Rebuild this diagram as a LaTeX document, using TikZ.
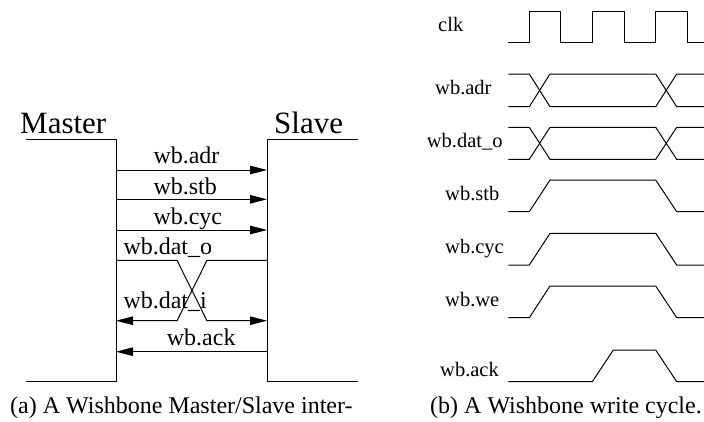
\documentclass[tikz,border=0pt]{standalone}
\usepackage{fontspec}
\setmainfont{Liberation Serif}
\newfontfamily\timesfont{Liberation Serif}
\usetikzlibrary{positioning}
\usetikzlibrary{arrows.meta}
\tikzset{>={Triangle[length=17pt,width=8.5pt]}}
\tikzset{bus/.style={line width=1pt}}
\tikzset{sig/.style={line width=1pt,->}}
\tikzset{wave/.style={line width=1pt,line join=miter}}
\tikzset{title/.style={anchor=base west,inner sep=0pt,font=\timesfont\fontsize{31}{36}\selectfont}}
\tikzset{lbl/.style={anchor=base west,inner sep=0pt,font=\timesfont\fontsize{24}{28}\selectfont}}
\tikzset{wlbl/.style={anchor=base west,inner sep=0pt,font=\timesfont\fontsize{20.5}{24}\selectfont}}
\tikzset{capt/.style={anchor=base west,inner sep=0pt,font=\timesfont\fontsize{24}{28}\selectfont}}

\begin{document}
\begin{tikzpicture}[x=1pt,y=-1pt]
\useasboundingbox (0,0) rectangle (704,421);

\begin{scope}
\node[title] (master) at (20,133) {Master};
\node[title] (slave) at (274,133) {Slave};

\coordinate (m0) at (26,139);
\coordinate (m1) at (116,139);
\coordinate (m2) at (116,381);
\coordinate (m3) at (26,381);
\coordinate (s0) at (358,139);
\coordinate (s1) at (267,139);
\coordinate (s2) at (267,381);
\coordinate (s3) at (358,381);
\draw[bus] (m0) -- (m1) -- (m2) -- (m3);
\draw[bus] (s0) -- (s1) -- (s2) -- (s3);

\coordinate (madr) at (116,170);  \coordinate (sadr) at (267,170);
\coordinate (mstb) at (116,199.3);\coordinate (sstb) at (267,199.3);
\coordinate (mcyc) at (116,230);  \coordinate (scyc) at (267,230);
\coordinate (mdo) at (116,260.3); \coordinate (sdo) at (267,260.3);
\coordinate (mdi) at (116,320.7); \coordinate (sdi) at (267,320.7);
\coordinate (mack) at (116,351.7);\coordinate (sack) at (267,351.7);

\draw[sig] (madr) -- (sadr);
\draw[sig] (mstb) -- (sstb);
\draw[sig] (mcyc) -- (scyc);
\draw[sig] (mdo) -- (177,260.3) -- (207,320.7) -- (sdi);
\draw[sig] (sdo) -- (207,260.3) -- (177,320.7) -- (mdi);
\draw[sig] (sack) -- (mack);

\node[lbl] (ladr) at (153.3,163.3) {wb.adr};
\node[lbl] (lstb) at (153.3,194.3) {wb.stb};
\node[lbl] (lcyc) at (153.3,224) {wb.cyc};
\node[lbl] (ldo) at (123.3,254) {wb.dat\_o};
\node[lbl] (ldi) at (123.3,308) {wb.dat\_i};
\node[lbl] (lack) at (166.7,345) {wb.ack};

\node[capt] (capa) at (10,413) {(a) A Wishbone Master/Slave inter-};
\end{scope}

\begin{scope}
\node[wlbl] (tclk) at (438,31) {clk};
\node[wlbl] (tadr) at (435,94) {wb.adr};
\node[wlbl] (tdo) at (426.7,147.5) {wb.dat\_o};
\node[wlbl] (tstb) at (445,200) {wb.stb};
\node[wlbl] (tcyc) at (445,253.5) {wb.cyc};
\node[wlbl] (twe) at (445,306) {wb.we};
\node[wlbl] (tack) at (440,376) {wb.ack};

\draw[wave] (508.3,42.7) -- (529.3,42.7) -- (529.3,11) -- (560.7,11) -- (560.7,42.7)
  -- (592.3,42.7) -- (592.3,11) -- (624,11) -- (624,42.7)
  -- (655.7,42.7) -- (655.7,11) -- (687.3,11) -- (687.3,42.7) -- (704,42.7);

\draw[wave] (508.3,74) -- (529.3,74) -- (550,106.7) -- (655.7,106.7) -- (676.7,74) -- (704,74);
\draw[wave] (508.3,106.7) -- (529.3,106.7) -- (550,74) -- (655.7,74) -- (676.7,106.7) -- (704,106.7);

\draw[wave] (508.3,127.3) -- (529.3,127.3) -- (550,159.3) -- (655.7,159.3) -- (676.7,127.3) -- (704,127.3);
\draw[wave] (508.3,159.3) -- (529.3,159.3) -- (550,127.3) -- (655.7,127.3) -- (676.7,159.3) -- (704,159.3);

\draw[wave] (508.3,211.7) -- (529.3,211.7) -- (550,180) -- (655.7,180) -- (676.7,211.7) -- (704,211.7);
\draw[wave] (508.3,265) -- (529.3,265) -- (550,233.3) -- (655.7,233.3) -- (676.7,265) -- (704,265);
\draw[wave] (508.3,317.7) -- (529.3,317.7) -- (550,286) -- (655.7,286) -- (676.7,317.7) -- (704,317.7);
\draw[wave] (508.3,381.7) -- (592.3,381.7) -- (613.3,350) -- (655.7,350) -- (676.7,381.7) -- (704,381.7);

\node[capt] (capb) at (430,413) {(b) A Wishbone write cycle.};
\end{scope}
\end{tikzpicture}
\end{document}
